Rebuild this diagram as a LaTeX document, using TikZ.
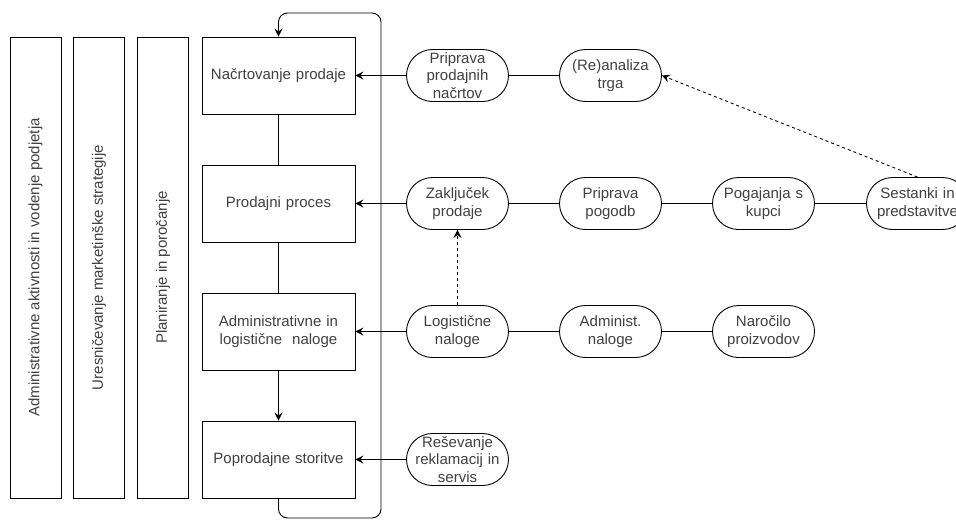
\documentclass[tikz,border=0pt]{standalone}
\usepackage{fontspec}
\setmainfont{Liberation Sans}
\usepackage{xcolor}
\usetikzlibrary{
    arrows.meta,
    shapes,
    positioning
}
\definecolor{txtgray}{HTML}{404040}

\begin{document}
\begin{tikzpicture}[x=1pt, y=-1pt, line width=0.9pt,
                        every node/.style={font=\fontsize{15}{17.5}\selectfont, text=txtgray, align=center},
                        sidebox/.style={draw, minimum width=461pt, minimum height=51pt, rotate=90},
                        stagebox/.style={draw, minimum width=153pt, minimum height=77pt, text width=150pt, inner sep=1pt},
                        pill/.style={draw, rectangle, rounded corners=26pt, minimum width=102pt, minimum height=52pt, text width=100pt, inner sep=0pt},
                        arr/.style={-{Stealth[length=8pt, width=8pt, inset=3pt]}},
                        dash line/.style={dash pattern=on 3pt off 3pt}]
                        \clip (0, 0) rectangle (956, 520);
                        % levi stolpci
                        \node[sidebox] (upravljanje) at (35.5, 267.5) {Administrativne aktivnosti in vodenje podjetja};
                        \node[sidebox] (strategija) at (99, 267.5) {Uresničevanje marketinške strategije};
                        \node[sidebox] (porocanje) at (163, 267.5) {Planiranje in poročanje};
                        % glavni koraki
                        \node[stagebox] (nacrt) at (278.5, 75.5) {Načrtovanje prodaje};
                        \node[stagebox] (proces) at (278.5, 203.5) {Prodajni proces};
                        \node[stagebox] (naloge) at (278.5, 331.5) {Administrativne in\\logistične\ \ naloge};
                        \node[stagebox] (storitve) at (278.5, 459.5) {Poprodajne storitve};
                        \draw (nacrt) -- (proces);
                        \draw (proces) -- (naloge);
                        \draw[arr] (naloge) -- (storitve);
                        \coordinate (spodaj) at (278.5, 518);
                        \coordinate (desno) at (381, 518);
                        \coordinate (zgoraj) at (381, 13);
                        \coordinate (levo) at (278.5, 13);
                        \draw[arr, rounded corners=9pt] (storitve.south) -- (spodaj) -- (desno) -- (zgoraj) -- (levo) -- (nacrt.north);
                        % aktivnosti
                        \node[pill] (pripravan) at (457.5, 75.5) {Priprava\\prodajnih\\načrtov};
                        \node[pill] (analiza) at (610.5, 75.5) {(Re)analiza\\trga};
                        \node[pill] (zakljucek) at (457.5, 203.5) {Zaključek\\prodaje};
                        \node[pill] (pogodbe) at (610.5, 203.5) {Priprava\\pogodb};
                        \node[pill] (pogajanja) at (763.5, 203.5) {Pogajanja s\\kupci};
                        \node[pill] (sestanki) at (917.5, 203.5) {Sestanki in\\predstavitve};
                        \node[pill] (logisticne) at (457.5, 331.5) {Logistične\\naloge};
                        \node[pill] (administ) at (610.5, 331.5) {Administ.\\naloge};
                        \node[pill] (narocilo) at (763.5, 331.5) {Naročilo\\proizvodov};
                        \node[pill] (reklamacije) at (457.5, 459.5) {Reševanje\\reklamacij in\\servis};
                        \draw[arr] (pripravan) -- (nacrt);
                        \draw (analiza) -- (pripravan);
                        \draw[arr] (zakljucek) -- (proces);
                        \draw (pogodbe) -- (zakljucek);
                        \draw (pogajanja) -- (pogodbe);
                        \draw (sestanki) -- (pogajanja);
                        \draw[arr] (logisticne) -- (naloge);
                        \draw (administ) -- (logisticne);
                        \draw (narocilo) -- (administ);
                        \draw[arr] (reklamacije) -- (storitve);
                        \draw[arr, dash line] (sestanki.north) -- (analiza.east);
                        \draw[arr, dash line] (logisticne.north) -- (zakljucek.south);
                    \end{tikzpicture}
\end{document}
